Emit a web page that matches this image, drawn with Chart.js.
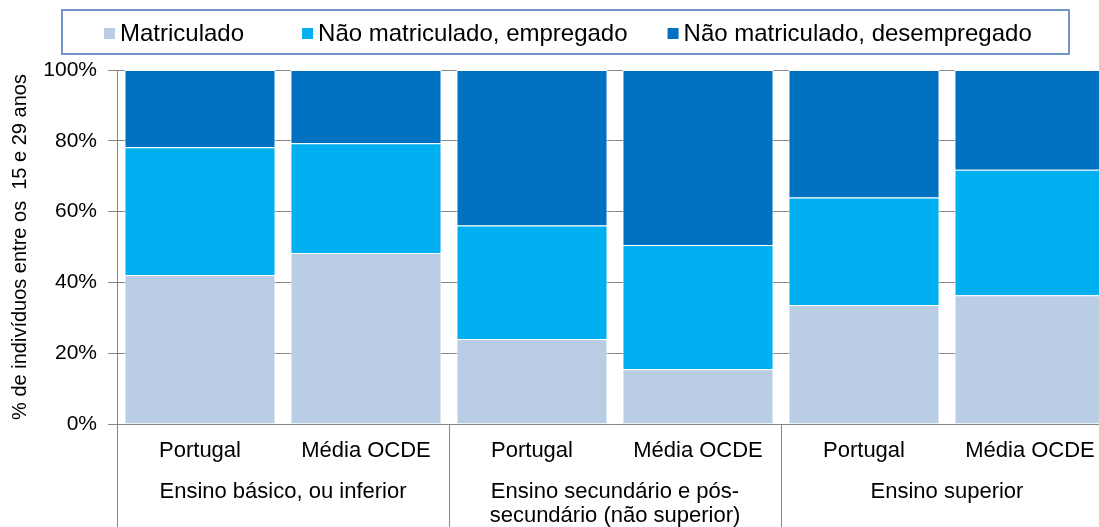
<!DOCTYPE html>
<html>
<head>
<meta charset="utf-8">
<script src="https://cdn.jsdelivr.net/npm/chart.js@4/dist/chart.umd.min.js"></script>
<style>
    html, body { margin: 0; padding: 0; background: #fff; overflow: hidden; }
    #wrap { width: 1113px; height: 527px; }
</style>
</head>
<body>
<div id="wrap"><canvas id="chart" width="1113" height="527"></canvas></div>
<script>
// Data
const countries = ['Portugal', 'Média OCDE', 'Portugal', 'Média OCDE', 'Portugal', 'Média OCDE'];
const groups = [
    ['Ensino básico, ou inferior'],
    ['Ensino secundário e pós-', 'secundário (não superior)'],
    ['Ensino superior']
];
const groupSizes = [2, 2, 2];
const seriesNames = ['Matriculado', 'Não matriculado, empregado', 'Não matriculado, desempregado'];
const matriculado = [42.1, 48.3, 24.0, 15.5, 33.6, 36.4];
const empregado = [36.1, 31.0, 32.1, 35.1, 30.4, 35.4];
const desempregado = [21.8, 20.7, 43.9, 49.4, 36.0, 28.2];
const yTicks = [0, 20, 40, 60, 80, 100];
const yTitle = '% de indivíduos entre os  15 e 29 anos';

const colors = ['#B9CDE5', '#00B0F0', '#0070C0'];
const axisGray = '#868686';
const fontFamily = '"Liberation Sans", Arial, sans-serif';

// Draws the boxed legend at the top
const boxedLegend = {
    id: 'boxedLegend',
    afterDraw(chart) {
        const ctx = chart.ctx;
        ctx.save();
        ctx.strokeStyle = '#7094C8';
        ctx.lineWidth = 2;
        ctx.strokeRect(62, 10, 1007, 44);

        ctx.font = '24px ' + fontFamily;
        ctx.fillStyle = '#000';
        ctx.textBaseline = 'alphabetic';
        const gaps = [58, 40];
        let x = 104;
        chart.data.datasets.forEach((ds, i) => {
            ctx.fillStyle = ds.backgroundColor;
            ctx.fillRect(x, 28, 11, 11);
            ctx.fillStyle = '#000';
            ctx.fillText(ds.label, x + 16, 41);
            x += 16 + ctx.measureText(ds.label).width + (gaps[i] || 0);
        });
        ctx.restore();
    }
};

// Vertical separators between the category groups, below the plot
const groupSeparators = {
    id: 'groupSeparators',
    afterDraw(chart) {
        const xs = chart.scales.x;
        const ctx = chart.ctx;
        const step = (xs.right - xs.left) / countries.length;
        ctx.save();
        ctx.strokeStyle = axisGray;
        ctx.lineWidth = 1;
        let idx = 0;
        const bounds = [0];
        groupSizes.forEach(n => { idx += n; bounds.push(idx); });
        bounds.forEach(b => {
            const px = Math.round(xs.getPixelForValue(b) - step / 2) + 0.5;
            ctx.beginPath();
            ctx.moveTo(px, chart.chartArea.bottom);
            ctx.lineTo(px, chart.height);
            ctx.stroke();
        });
        ctx.restore();
    }
};

const ctx = document.getElementById('chart').getContext('2d');
new Chart(ctx, {
    type: 'bar',
    data: {
        labels: countries,
        datasets: [matriculado, empregado, desempregado].map((values, i) => ({
            label: seriesNames[i],
            data: values,
            backgroundColor: colors[i],
            borderColor: '#ffffff',
            borderWidth: 1,
            barPercentage: 0.91,
            categoryPercentage: 1.0
        }))
    },
    options: {
        responsive: false,
        animation: false,
        devicePixelRatio: 1,
        layout: { padding: { top: 70, left: 0, right: 0, bottom: 0 } },
        plugins: {
            legend: { display: false },
            tooltip: { enabled: false }
        },
        scales: {
            x: {
                stacked: true,
                grid: { display: false, drawTicks: false },
                border: { display: true, color: axisGray, width: 1 },
                ticks: {
                    color: '#000',
                    font: { family: fontFamily, size: 22 },
                    padding: 14,
                    maxRotation: 0,
                    autoSkip: false
                },
                afterFit(scale) { scale.height = 38; }
            },
            x2: {
                type: 'category',
                position: 'bottom',
                labels: groups,
                grid: { display: false, drawTicks: false },
                border: { display: false },
                ticks: {
                    color: '#000',
                    font: { family: fontFamily, size: 22, lineHeight: 1.1 },
                    padding: 18,
                    maxRotation: 0,
                    autoSkip: false
                },
                afterFit(scale) { scale.height = 65; }
            },
            y: {
                stacked: true,
                min: 0,
                max: 100,
                afterBuildTicks(scale) {
                    scale.ticks = yTicks.map(v => ({ value: v }));
                },
                grid: { color: axisGray, lineWidth: 1, tickLength: 9 },
                border: { display: true, color: axisGray, width: 1 },
                ticks: {
                    color: '#000',
                    font: { family: fontFamily, size: 21 },
                    padding: 11,
                    callback: v => v + '%'
                },
                title: {
                    display: true,
                    text: yTitle,
                    color: '#000',
                    font: { family: fontFamily, size: 20 },
                    padding: { top: 8, bottom: 0 }
                },
                afterFit(scale) { scale.width = 117; }
            }
        }
    },
    plugins: [boxedLegend, groupSeparators]
});
</script>
</body>
</html>
